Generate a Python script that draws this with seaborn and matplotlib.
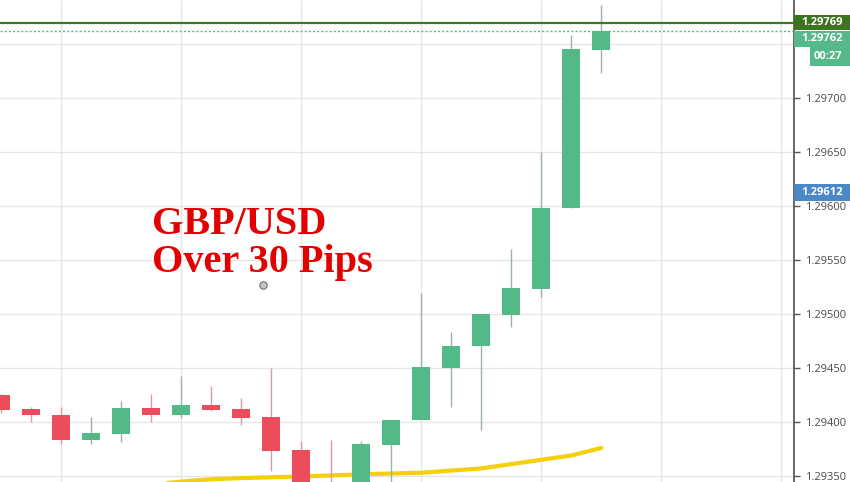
import numpy as np
import pandas as pd
import matplotlib
matplotlib.use("Agg")
import matplotlib.pyplot as plt
from matplotlib.patches import Rectangle
import seaborn as sns

# ---------------- data ----------------
candle_index = list(range(21))
opens = [1.29425, 1.29412, 1.29406, 1.29383, 1.29389, 1.29413, 1.29406, 1.29416, 1.29412, 1.29405,
         1.29374, 1.29335, 1.29330, 1.29379, 1.29402, 1.29450, 1.29470, 1.29499, 1.29523, 1.29598, 1.29744]
highs = [1.29426, 1.29414, 1.29414, 1.29405, 1.29419, 1.29426, 1.29443, 1.29433, 1.29422, 1.29450,
         1.29382, 1.29383, 1.29382, 1.29402, 1.29519, 1.29483, 1.29500, 1.29560, 1.29650, 1.29758, 1.29786]
lows = [1.29408, 1.29400, 1.29380, 1.29380, 1.29381, 1.29400, 1.29404, 1.29410, 1.29397, 1.29355,
        1.29330, 1.29320, 1.29325, 1.29340, 1.29402, 1.29414, 1.29393, 1.29488, 1.29516, 1.29598, 1.29723]
closes = [1.29411, 1.29406, 1.29383, 1.29390, 1.29413, 1.29406, 1.29416, 1.29411, 1.29404, 1.29373,
          1.29335, 1.29328, 1.29380, 1.29402, 1.29451, 1.29470, 1.29500, 1.29524, 1.29598, 1.29745, 1.29762]
moving_avg = [1.29330, 1.29332, 1.29334, 1.29336, 1.29339, 1.29342, 1.293448, 1.29347, 1.29348, 1.293488,
              1.293495, 1.293505, 1.293515, 1.293523, 1.29353, 1.29355, 1.29357, 1.29361, 1.29365, 1.29369, 1.29376]
ytick_values = [1.2935, 1.2940, 1.2945, 1.2950, 1.2955, 1.2960, 1.2965, 1.2970, 1.2975]
ytick_labels = ["1.29350", "1.29400", "1.29450", "1.29500", "1.29550", "1.29600", "1.29650", "1.29700", ""]
alert_level = 1.29769
last_price = 1.29762
marker_price = 1.29612
countdown = "00:27"
title_lines = ["GBP/USD", "Over 30 Pips"]

# ---------------- style ----------------
sns.set_theme(style="white")
plt.rcParams["font.family"] = ["Open Sans", "DejaVu Sans"]

W, H = 850, 482
fig = plt.figure(figsize=(W / 100, H / 100), dpi=100)
ax = fig.add_axes([0, 0, 794 / W, 1])

UP = "#53b987"
DOWN = "#eb4d5c"

df = pd.DataFrame({"i": candle_index, "o": opens, "h": highs, "l": lows, "c": closes, "ma": moving_avg})
df["up"] = df["c"] >= df["o"]
body_col = np.where(df["up"], UP, DOWN)
wick_col = np.where(df["up"], "#9bb3b0", "#d89aa3")

# moving average (behind candles)
sns.lineplot(data=df, x="i", y="ma", ax=ax, color="#f6cf0c", linewidth=3.0, zorder=1)

# wicks
ax.vlines(df["i"], df["l"], df["h"], colors=wick_col, linewidth=1.0, zorder=2)
# bodies
ax.bar(df["i"], (df["c"] - df["o"]).abs(), bottom=np.minimum(df["o"], df["c"]),
       width=0.6, color=body_col, linewidth=0, zorder=3)

# horizontal lines
ax.axhline(alert_level, color="#3f7a1f", linewidth=1.6, zorder=4)
ax.axhline(last_price, color=UP, linewidth=1.0, linestyle=(0, (1.5, 1.5)), zorder=4)

# axes limits (pixel-matched)
ax.set_xlim(-0.05, 26.42)
ax.set_ylim(1.293444, 1.297907)

# grid
ax.set_xticks([2, 6, 10, 14, 18, 22, 26])
ax.set_yticks(ytick_values)
ax.set_yticklabels(ytick_labels)
ax.grid(True, color="#e6e6e6", linewidth=1.0)
ax.set_axisbelow(True)
ax.tick_params(axis="x", length=0, labelbottom=False)
ax.yaxis.tick_right()
ax.tick_params(axis="y", length=4, width=1, color="#555555", labelsize=8,
               labelcolor="#4a4a4a", pad=4)
ax.set_xlabel("")
ax.set_ylabel("")
for s in ["left", "top", "bottom"]:
    ax.spines[s].set_visible(False)
ax.spines["right"].set_color("#4d4d4d")
ax.spines["right"].set_linewidth(1.2)


def fx(px):
    return px / W


def fy(py):
    return 1 - py / H


# price label boxes on the right axis
def price_box(x0, x1, y0, y1, color, text, tx):
    fig.add_artist(Rectangle((fx(x0), fy(y1)), fx(x1) - fx(x0), fy(y0) - fy(y1),
                             transform=fig.transFigure, facecolor=color, edgecolor="none", zorder=5))
    fig.text(fx(tx), fy((y0 + y1) / 2), text, color="white", fontsize=8, fontweight="bold",
             ha="center", va="center", zorder=6)


price_box(794, 850, 14.5, 30, "#3c7520", f"{alert_level:.5f}", 822)
price_box(794, 850, 30.5, 47, "#55b98a", f"{last_price:.5f}", 822)
price_box(810, 850, 47, 66, "#55b98a", countdown, 828)
price_box(794, 850, 184, 201, "#4b88c8", f"{marker_price:.5f}", 822)

# annotation text
fig.text(fx(152), fy(233.5), title_lines[0], color="#e30000", fontsize=29, fontweight="bold",
         family=["Liberation Serif", "DejaVu Serif"], ha="left", va="baseline")
fig.text(fx(152), fy(272), title_lines[1], color="#e30000", fontsize=29, fontweight="bold",
         family=["Liberation Serif", "DejaVu Serif"], ha="left", va="baseline")

# cursor dot
ax.scatter([fx(263)], [fy(285)], s=28, color="#c4c4c4", edgecolor="#6e6e6e", linewidth=0.8,
           transform=fig.transFigure, zorder=7, clip_on=False)

fig.savefig("out.png", dpi=100)
